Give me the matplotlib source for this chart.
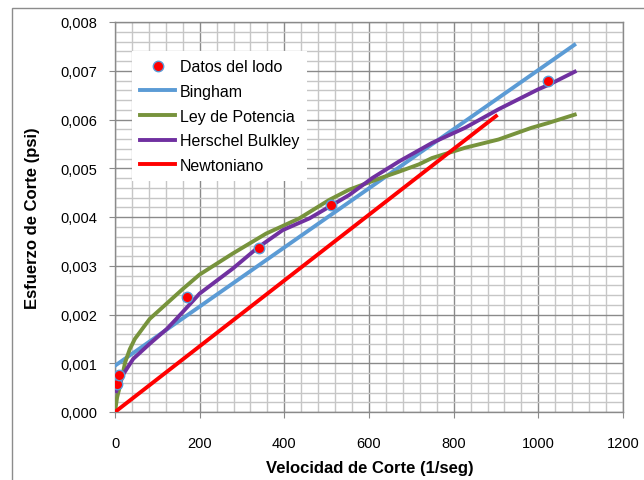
import matplotlib
matplotlib.use("Agg")
import matplotlib.pyplot as plt
from matplotlib.ticker import MultipleLocator, FuncFormatter
from matplotlib.patches import Rectangle

plt.rcParams["font.family"] = ["Liberation Sans", "DejaVu Sans"]

# Fann data: shear rate (1/s) vs shear stress (psi)
datos_x = [5.11, 10.22, 170.3, 340.6, 510.9, 1021.8]
datos_y = [0.00057, 0.00075, 0.00235, 0.00337, 0.00424, 0.00679]

bingham_x = [0, 1085]
bingham_y = [0.00095, 0.00753]

potencia_x = [0, 5, 12, 24, 35, 47, 59, 82, 161, 200, 278, 357, 435, 506, 553,
              631, 671, 718, 749, 827, 906, 984, 1024, 1086]
potencia_y = [0.0, 0.0003, 0.00054, 0.00102, 0.00129, 0.0015, 0.00164, 0.00191,
              0.00253, 0.00282, 0.00325, 0.00366, 0.00397, 0.00435, 0.00456,
              0.00481, 0.00493, 0.00508, 0.00521, 0.00542, 0.00559, 0.00583,
              0.00593, 0.0061]

herschel_x = [3, 20, 43, 82, 122, 145, 200, 278, 337, 396, 459, 510, 553, 608,
              671, 749, 827, 906, 945, 1000, 1024, 1086]
herschel_y = [0.00043, 0.00078, 0.00109, 0.0014, 0.0017, 0.00191, 0.00243,
              0.00294, 0.00337, 0.00373, 0.00397, 0.00423, 0.00445, 0.0048,
              0.00514, 0.00552, 0.00583, 0.00621, 0.00638, 0.00662, 0.00671,
              0.00698]

newton_x = [0, 900]
newton_y = [0.0, 0.00607]

fig = plt.figure(figsize=(6.44, 4.81), dpi=100)
ax = fig.add_axes([115 / 644, 1 - 413 / 481, 508 / 644, 390 / 481])

# chart area frame (Excel style), partly cut by the image edges
fig.patches.append(Rectangle((12 / 644, -0.2), 1.2, 0.2 + 1 - 9 / 481,
                             transform=fig.transFigure, fill=False,
                             edgecolor="#8c8c8c", lw=1.0, zorder=0))

ax.plot(bingham_x, bingham_y, color="#5b9bd5", lw=2.8, label="Bingham", zorder=3)
ax.plot(potencia_x, potencia_y, color="#77933c", lw=2.8, label="Ley de Potencia", zorder=3)
ax.plot(herschel_x, herschel_y, color="#7030a0", lw=2.8, label="Herschel Bulkley", zorder=3)
ax.plot(newton_x, newton_y, color="#ff0000", lw=2.8, label="Newtoniano", zorder=3)
ax.plot(datos_x, datos_y, "o", color="#ff0000", markeredgecolor="#5b9bd5",
        markeredgewidth=1.0, markersize=7.5, label="Datos del lodo", zorder=4)

ax.set_xlim(0, 1200)
ax.set_ylim(0, 0.008)
ax.xaxis.set_major_locator(MultipleLocator(200))
ax.xaxis.set_minor_locator(MultipleLocator(40))
ax.yaxis.set_major_locator(MultipleLocator(0.001))
ax.yaxis.set_minor_locator(MultipleLocator(0.0002))
ax.yaxis.set_major_formatter(FuncFormatter(lambda v, p: f"{v:.3f}".replace(".", ",")))

ax.set_axisbelow(True)
ax.grid(which="minor", color="#c6c6c6", lw=1.0)
ax.grid(which="major", color="#8a8a8a", lw=1.0)
for s in ax.spines.values():
    s.set_color("#8a8a8a")
    s.set_linewidth(1.0)

ax.tick_params(which="major", direction="out", length=4, color="#8a8a8a",
               labelsize=10.5, labelcolor="black")
ax.tick_params(axis="y", pad=9)
ax.tick_params(axis="x", pad=13)
ax.tick_params(which="minor", length=0)

ax.set_xlabel("Velocidad de Corte (1/seg)", fontsize=12, fontweight="bold")
ax.set_ylabel("Esfuerzo de Corte (psi)", fontsize=12, fontweight="bold")
ax.xaxis.set_label_coords(0.502, -0.122)
ax.yaxis.set_label_coords(-0.148, 0.5)

# legend order as in the reference
h, l = ax.get_legend_handles_labels()
order = [4, 0, 1, 2, 3]
leg = ax.legend([h[i] for i in order], [l[i] for i in order],
                loc="upper left", bbox_to_anchor=(0.018, 0.945), fontsize=11.5,
                frameon=True, fancybox=False, edgecolor="none", facecolor="white",
                framealpha=1, handlelength=2.2, handletextpad=0.3,
                labelspacing=0.6, borderpad=0.5)

fig.savefig("out.png", dpi=100)
